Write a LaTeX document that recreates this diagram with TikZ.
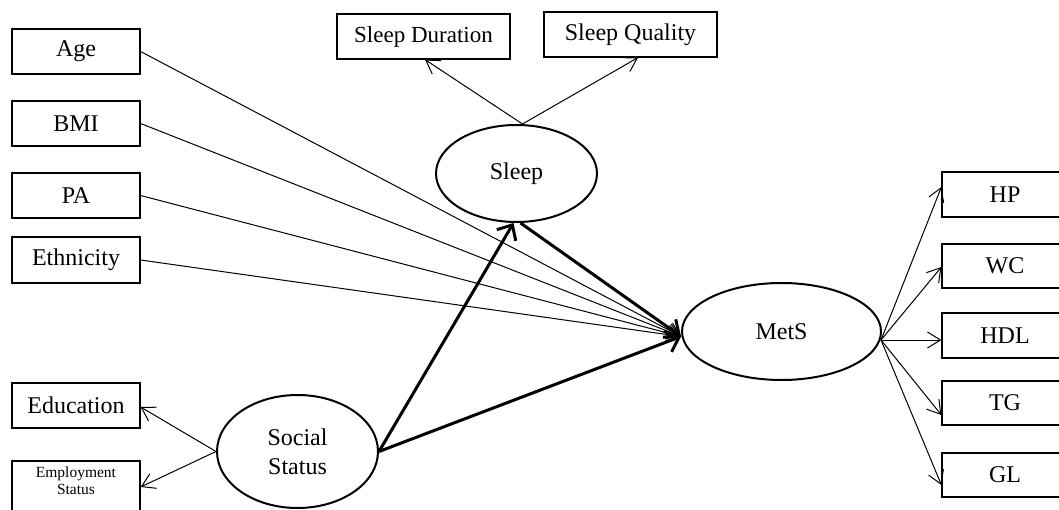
\documentclass[tikz,border=0pt]{standalone}
\usepackage{fontspec}
\setmainfont{Liberation Serif}
\usetikzlibrary{shapes.geometric,arrows.meta,calc}
\begin{document}
\begin{tikzpicture}[x=1pt,y=-1pt,
  box/.style={draw,line width=1.2pt,rectangle,minimum width=128pt,minimum height=45pt,inner sep=0pt,font=\fontsize{24}{29}\selectfont},
  topbox/.style={box,minimum width=173pt},
  lat/.style={draw,line width=2pt,ellipse,inner sep=0pt,align=center,font=\fontsize{24}{29}\selectfont},
  thin/.style={line width=1pt,-{Straight Barb[length=13pt,width=16pt,line width=1pt]}},
  thick/.style={line width=3pt,-{Straight Barb[length=12pt,width=22pt,line width=3pt]}}]
\useasboundingbox (0,0) rectangle (1059,510);
% left boxes
\node[box] (age) at (76,51.5) {Age};
\node[box] (bmi) at (76,123.5) {BMI};
\node[box] (pa) at (76,195.5) {PA};
\node[box,minimum height=46pt] (eth) at (76,260) {Ethnicity};
\node[box] (edu) at (76,405.5) {Education};
\node[box,minimum height=58pt] (emp) at (76,490) {};
\node[align=center,font=\fontsize{15.5}{17}\selectfont] (emptxt) at (76,480.5) {Employment\\Status};
% top boxes
\node[topbox] (sdur) at (423.5,36.5) {\fontsize{23}{28}\selectfont Sleep Duration};
\node[topbox] (squal) at (630.5,34.5) {Sleep Quality};
% latent variables
\node[lat,minimum width=161pt,minimum height=97pt] (sleep) at (516.5,173.5) {Sleep};
\node[lat,minimum width=161pt,minimum height=113pt] (social) at (297.5,451.5) {Social\\Status};
\node[lat,minimum width=199pt,minimum height=97pt] (mets) at (781.5,331.5) {MetS};
% right boxes
\node[box,minimum width=126pt] (hp) at (1005,194.5) {HP};
\node[box,minimum width=126pt,minimum height=44pt] (wc) at (1005,266) {WC};
\node[box,minimum width=126pt] (hdl) at (1005,335.5) {HDL};
\node[box,minimum width=126pt,minimum height=44pt] (tg) at (1005,403) {TG};
\node[box,minimum width=126pt,minimum height=44pt] (gl) at (1005,475) {GL};
% coordinates
\coordinate (mw) at ($(mets.west)+(0,5)$);
\coordinate (me) at ($(mets.east)+(-1,8.5)$);
\coordinate (stop) at ($(sleep.north)+(6,0)$);
% covariates to MetS
\draw[thin] (age.east) -- (mw);
\draw[thin] (bmi.east) -- (mw);
\draw[thin] (pa.east) -- (mw);
\draw[thin] (eth.east) -- (mw);
% sleep indicators
\draw[thin] (stop) -- ($(sdur.south)+(1.5,0)$);
\draw[thin] (stop) -- ($(squal.south)+(7.5,0)$);
% social indicators
\draw[thin] (social.west) -- ($(edu.east)+(0,1.5)$);
\draw[thin] (social.west) -- ($(emp.east)+(0,-3)$);
% structural paths
\draw[thick] (social.east) -- ($(sleep.south)+(-3,0)$);
\draw[thick] ($(sleep.south)+(4,0)$) -- (mw);
\draw[thick] (social.east) -- (mw);
% MetS indicators
\draw[thin] (me) -- ($(hp.west)+(0,-7.5)$);
\draw[thin] (me) -- ($(wc.west)+(0,1)$);
\draw[thin] (me) -- ($(hdl.west)+(0,4.5)$);
\draw[thin] (me) -- ($(tg.west)+(0,12)$);
\draw[thin] (me) -- ($(gl.west)+(0,10)$);
\end{tikzpicture}
\end{document}
